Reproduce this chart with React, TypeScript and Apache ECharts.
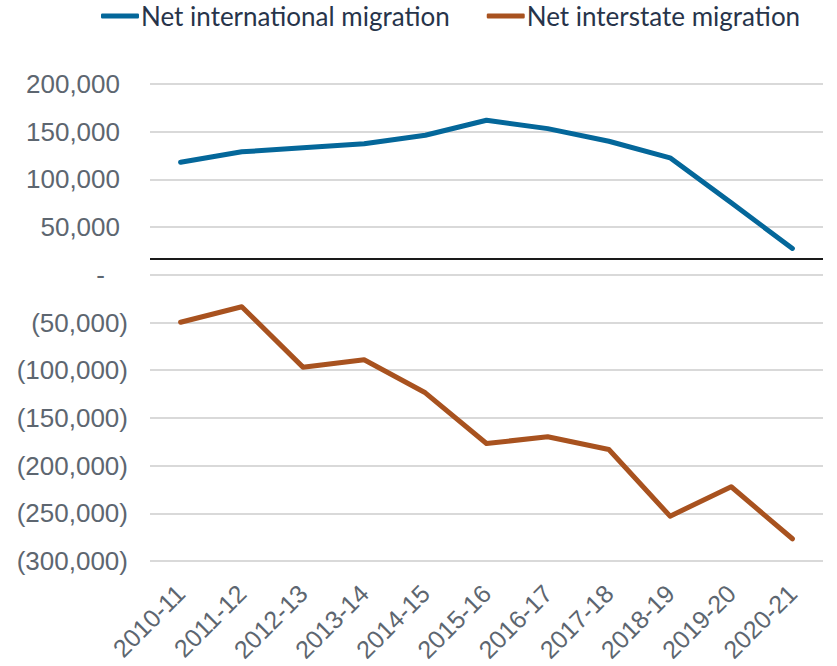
import React, { useEffect, useRef } from "react";
import * as echarts from "echarts";

const categories = ["2010-11", "2011-12", "2012-13", "2013-14", "2014-15", "2015-16", "2016-17", "2017-18", "2018-19", "2019-20", "2020-21"];
const netInternational = [118000, 128900, 133100, 137300, 146300, 162000, 153200, 140000, 122600, 75500, 27600];
const netInterstate = [-49700, -33500, -96800, -89100, -123700, -176800, -169800, -183100, -253000, -222200, -276700];
const axisCrossValue = 16800;
const yMin = -300000;
const yMax = 200000;
const yInterval = 50000;

const BLUE = "#04679A";
const ORANGE = "#A8521F";
const LABEL = "#5D6670";

function fmt(v: number): string {
  if (v === 0) return "{z|-}";
  const s = Math.abs(v).toLocaleString("en-US");
  return v < 0 ? "{n|(" + s + ")}" : "{p|" + s + "}";
}

export default function App() {
  const ref = useRef<HTMLDivElement>(null);
  useEffect(() => {
    if (!ref.current) return;
    const chart = echarts.init(ref.current, null, { renderer: "svg" });
    const rich = {
      p: { fontSize: 26, color: LABEL, fontFamily: "Liberation Sans", padding: [0, 8, 0, 0] },
      n: { fontSize: 26, color: LABEL, fontFamily: "Liberation Sans" },
      z: { fontSize: 26, color: LABEL, fontFamily: "Liberation Sans", padding: [0, 23, 0, 0] },
    };
    chart.setOption({
      animation: false,
      backgroundColor: "#ffffff",
      legend: {
        top: 3,
        left: 101,
        padding: 0,
        itemGap: 37,
        itemWidth: 38,
        itemHeight: 5,
        icon: "roundRect",
        textStyle: { fontFamily: "Lato", fontSize: 26, color: "#27344A", padding: [0, 0, 0, -3] },
        data: ["Net international migration", "Net interstate migration"],
      },
      grid: { left: 150, right: 14, top: 84, bottom: 105, containLabel: false, outerBoundsMode: "none" },
      xAxis: {
        type: "category",
        data: categories,
        boundaryGap: true,
        axisLine: { show: false },
        axisTick: { show: false },
        axisLabel: {
          rotate: 45,
          margin: 28,
          fontSize: 25,
          color: LABEL,
          fontFamily: "Liberation Sans",
          interval: 0,
        },
      },
      yAxis: {
        type: "value",
        min: yMin,
        max: yMax,
        interval: yInterval,
        axisLine: { show: false },
        axisTick: { show: false },
        splitLine: { lineStyle: { color: "#D9D9D9", width: 2 } },
        axisLabel: { margin: 22, formatter: fmt, rich },
      },
      series: [
        {
          name: "Net international migration",
          type: "line",
          data: netInternational,
          symbol: "none",
          itemStyle: { color: BLUE },
          lineStyle: { color: BLUE, width: 5, cap: "round", join: "round" },
          markLine: {
            silent: true,
            symbol: "none",
            label: { show: false },
            lineStyle: { color: "#1a1a1a", width: 2, type: "solid" },
            data: [{ yAxis: axisCrossValue }],
          },
          z: 3,
        },
        {
          name: "Net interstate migration",
          type: "line",
          data: netInterstate,
          symbol: "none",
          itemStyle: { color: ORANGE },
          lineStyle: { color: ORANGE, width: 5, cap: "round", join: "round" },
          z: 3,
        },
      ],
    });
    return () => chart.dispose();
  }, []);
  return <div ref={ref} style={{ position: "fixed", left: 0, top: 0, width: 837, height: 666 }} />;
}
